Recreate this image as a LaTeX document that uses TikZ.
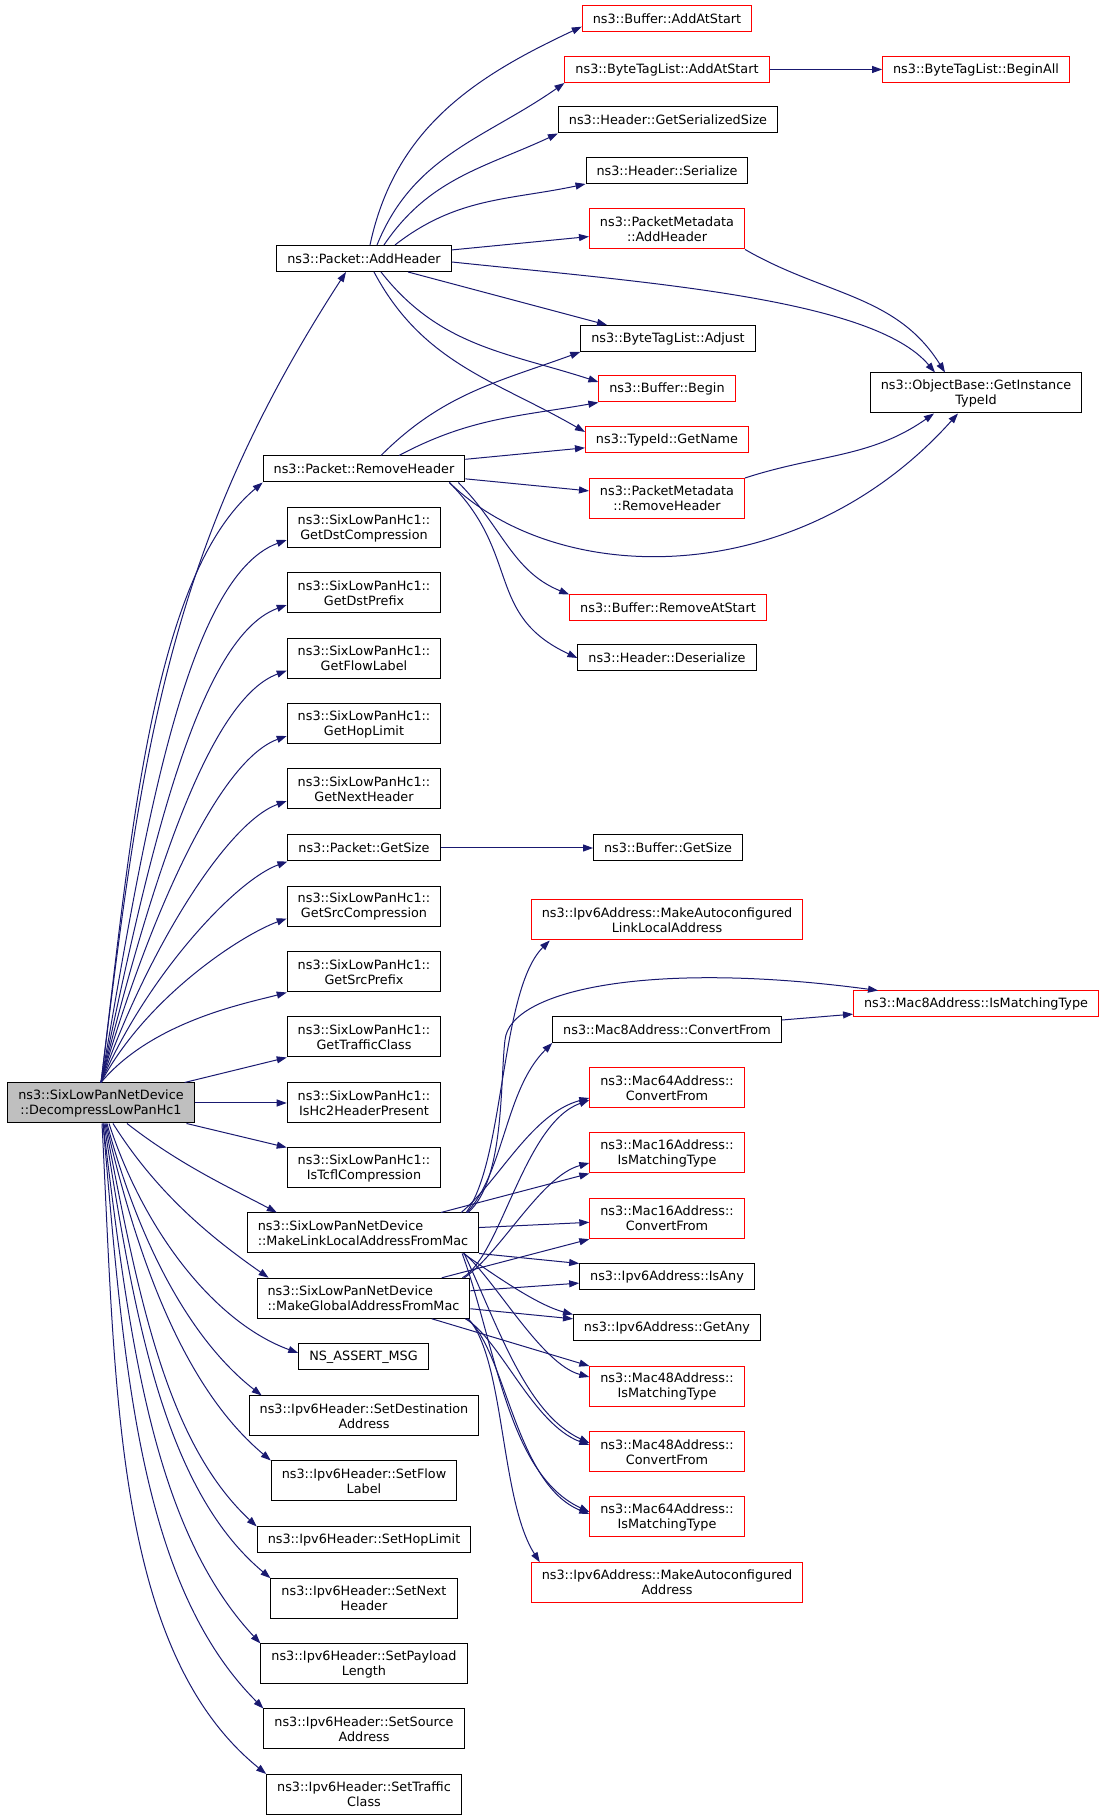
\documentclass[tikz,border=0pt]{standalone}
\usepackage{fontspec}
\setmainfont{DejaVu Sans}
\usepackage{tikz}
\usetikzlibrary{arrows.meta}

\definecolor{callblue}{HTML}{191970}
\definecolor{rootgray}{HTML}{BFBFBF}
\newcommand{\fnfont}{\fontsize{12.8pt}{15pt}\selectfont}

\begin{document}
\begin{tikzpicture}[
		x=1pt, y=1pt,
		fnbox/.style={rectangle, draw=#1, fill=white, line width=1pt, font=\fnfont, inner xsep=10.5pt, inner ysep=1pt, minimum height=26pt, align=center},
		fnbox/.default=black,
		tall/.style={minimum height=40pt},
		call/.style={draw=callblue, line width=1pt, -{Triangle[length=10pt,width=7pt]}},
		upfan/.style={call, in looseness=0.5},
		downfan/.style={call, in looseness=0.75}
		]
		
		\useasboundingbox (0,0) rectangle (1107,1820);
		
		% Caller
		\node[fnbox, fill=rootgray, tall] (D) at (101,717) {ns3::SixLowPanNetDevice\\::DecompressLowPanHc1};
		
		% Second column: called by the caller
		\node[fnbox] (AH) at (364,1561.5) {ns3::Packet::AddHeader};
		\node[fnbox] (RH) at (364,1351) {ns3::Packet::RemoveHeader};
		\node[fnbox, tall] (gDC) at (364,1292) {ns3::SixLowPanHc1::\\GetDstCompression};
		\node[fnbox, tall] (gDP) at (364,1227) {ns3::SixLowPanHc1::\\GetDstPrefix};
		\node[fnbox, tall] (gFL) at (364,1161.3) {ns3::SixLowPanHc1::\\GetFlowLabel};
		\node[fnbox, tall] (gHL) at (364,1096) {ns3::SixLowPanHc1::\\GetHopLimit};
		\node[fnbox, tall] (gNH) at (364,1031) {ns3::SixLowPanHc1::\\GetNextHeader};
		\node[fnbox] (pGS) at (364,972) {ns3::Packet::GetSize};
		\node[fnbox, tall] (gSC) at (364,913.5) {ns3::SixLowPanHc1::\\GetSrcCompression};
		\node[fnbox, tall] (gSP) at (364,848) {ns3::SixLowPanHc1::\\GetSrcPrefix};
		\node[fnbox, tall] (gTC) at (364,783) {ns3::SixLowPanHc1::\\GetTrafficClass};
		\node[fnbox, tall] (iH2) at (364,717) {ns3::SixLowPanHc1::\\IsHc2HeaderPresent};
		\node[fnbox, tall] (iTC) at (364,652) {ns3::SixLowPanHc1::\\IsTcflCompression};
		\node[fnbox, tall, align=left] (ML) at (363,587) {ns3::SixLowPanNetDevice\\::MakeLinkLocalAddressFromMac};
		\node[fnbox, tall, align=left] (MG) at (363.5,521.7) {ns3::SixLowPanNetDevice\\::MakeGlobalAddressFromMac};
		\node[fnbox] (nsA) at (363.5,463) {NS\_ASSERT\_MSG};
		\node[fnbox, tall] (sDA) at (364,404) {ns3::Ipv6Header::SetDestination\\Address};
		\node[fnbox, tall] (sFL) at (364,339) {ns3::Ipv6Header::SetFlow\\Label};
		\node[fnbox] (sHL) at (364,280) {ns3::Ipv6Header::SetHopLimit};
		\node[fnbox, tall] (sNH) at (364,221.3) {ns3::Ipv6Header::SetNext\\Header};
		\node[fnbox, tall] (sPL) at (364,156) {ns3::Ipv6Header::SetPayload\\Length};
		\node[fnbox, tall] (sSA) at (364,91) {ns3::Ipv6Header::SetSource\\Address};
		\node[fnbox, tall] (sTC) at (364,25.5) {ns3::Ipv6Header::SetTraffic\\Class};
		
		% Third column
		\node[fnbox=red] (bAAS) at (667,1801.3) {ns3::Buffer::AddAtStart};
		\node[fnbox=red] (btAAS) at (667,1750.5) {ns3::ByteTagList::AddAtStart};
		\node[fnbox] (hGSS) at (668,1700) {ns3::Header::GetSerializedSize};
		\node[fnbox] (hSer) at (667,1649.5) {ns3::Header::Serialize};
		\node[fnbox=red, tall] (pmAH) at (667,1591) {ns3::PacketMetadata\\::AddHeader};
		\node[fnbox] (btAdj) at (668,1481.5) {ns3::ByteTagList::Adjust};
		\node[fnbox=red] (bBeg) at (667,1431) {ns3::Buffer::Begin};
		\node[fnbox=red] (tGN) at (667,1380) {ns3::TypeId::GetName};
		\node[fnbox=red, tall] (pmRH) at (667,1321.5) {ns3::PacketMetadata\\::RemoveHeader};
		\node[fnbox=red] (bRAS) at (668,1212) {ns3::Buffer::RemoveAtStart};
		\node[fnbox] (hDes) at (667,1162) {ns3::Header::Deserialize};
		\node[fnbox] (bGS) at (668,972) {ns3::Buffer::GetSize};
		\node[fnbox=red, tall] (aLL) at (667,900) {ns3::Ipv6Address::MakeAutoconfigured\\LinkLocalAddress};
		\node[fnbox] (m8CF) at (667,790.5) {ns3::Mac8Address::ConvertFrom};
		\node[fnbox=red, tall] (m64CF) at (667,732) {ns3::Mac64Address::\\ConvertFrom};
		\node[fnbox=red, tall] (m16IMT) at (667,667) {ns3::Mac16Address::\\IsMatchingType};
		\node[fnbox=red, tall] (m16CF) at (667,601.3) {ns3::Mac16Address::\\ConvertFrom};
		\node[fnbox] (aIA) at (667,543) {ns3::Ipv6Address::IsAny};
		\node[fnbox] (aGA) at (667,492) {ns3::Ipv6Address::GetAny};
		\node[fnbox=red, tall] (m48IMT) at (667,433.5) {ns3::Mac48Address::\\IsMatchingType};
		\node[fnbox=red, tall] (m48CF) at (667,368) {ns3::Mac48Address::\\ConvertFrom};
		\node[fnbox=red, tall] (m64IMT) at (667,303) {ns3::Mac64Address::\\IsMatchingType};
		\node[fnbox=red, tall] (aA) at (667,237.3) {ns3::Ipv6Address::MakeAutoconfigured\\Address};
		
		% Fourth column
		\node[fnbox=red] (btBA) at (976,1750.5) {ns3::ByteTagList::BeginAll};
		\node[fnbox, tall] (obGIT) at (976,1427) {ns3::ObjectBase::GetInstance\\TypeId};
		\node[fnbox=red] (m8IMT) at (976,816) {ns3::Mac8Address::IsMatchingType};
		
		% Calls from the caller, upwards
		\draw[upfan] (D.north) to[out=83, in=-123, in looseness=1] ([xshift=-18pt]AH.south);
		\draw[upfan] (D.north) to[out=83, in=220, in looseness=0.6] (RH.south west);
		\draw[upfan] (D.north) to[out=80, in=200] ([yshift=-12pt]gDC.west);
		\draw[upfan] (D.north) to[out=78, in=200] ([yshift=-12pt]gDP.west);
		\draw[upfan] (D.north) to[out=76, in=200] ([yshift=-12pt]gFL.west);
		\draw[upfan] (D.north) to[out=74, in=200] ([yshift=-12pt]gHL.west);
		\draw[upfan] (D.north) to[out=71, in=200] ([yshift=-12pt]gNH.west);
		\draw[upfan] (D.north) to[out=67, in=200] (pGS.south west);
		\draw[upfan] (D.north) to[out=62, in=200] ([yshift=-12pt]gSC.west);
		\draw[upfan] (D.north) to[out=50, in=195] (gSP.south west);
		\draw[call] (D) -- (gTC.south west);
		\draw[call] (D) -- (iH2);
		\draw[call] (D) -- (iTC.north west);
		
		% Calls from the caller, downwards
		\draw[downfan] ([xshift=26pt]D.south) to[out=-38, in=152] ([xshift=30pt]ML.north west);
		\draw[downfan] ([xshift=12pt]D.south) to[out=-58, in=145] ([xshift=12pt]MG.north west);
		\draw[downfan] ([xshift=8pt]D.south) to[out=-72, in=160] ([yshift=4pt]nsA.west);
		\draw[downfan] ([xshift=6pt]D.south) to[out=-75, in=142] ([xshift=13pt]sDA.north west);
		\draw[downfan] ([xshift=5pt]D.south) to[out=-77, in=140] (sFL.north west);
		\draw[downfan] ([xshift=4pt]D.south) to[out=-79, in=137] (sHL.north west);
		\draw[downfan] ([xshift=3pt]D.south) to[out=-81, in=140] (sNH.north west);
		\draw[downfan] ([xshift=2pt]D.south) to[out=-83, in=133] (sPL.north west);
		\draw[downfan] ([xshift=2pt]D.south) to[out=-85, in=135] (sSA.north west);
		\draw[downfan] ([xshift=1pt]D.south) to[out=-87, in=141] (sTC.north west);
		
		% Packet::AddHeader
		\draw[call] ([xshift=6pt]AH.north) to[out=78, in=205] ([yshift=-8pt]bAAS.west);
		\draw[call] ([xshift=13pt]AH.north) to[out=68, in=215] (btAAS.south west);
		\draw[call] ([xshift=20pt]AH.north) to[out=56, in=205] (hGSS.south west);
		\draw[call] ([xshift=31pt]AH.north) to[out=38, in=192] (hSer.south west);
		\draw[call] (AH) -- (pmAH);
		\draw[call] ([yshift=-3.5pt]AH.east) to[out=-6, in=130, in looseness=0.5] ([xshift=-41pt]obGIT.north);
		\draw[call] ([xshift=44pt]AH.south) -- ([xshift=-61pt]btAdj.north);
		\draw[call] ([xshift=17pt]AH.south) to[out=-52, in=162] ([yshift=7pt]bBeg.west);
		\draw[call] ([xshift=10pt]AH.south) to[out=-62, in=150] ([yshift=8pt]tGN.west);
		\draw[call] (btAAS) -- (btBA);
		\draw[call] (pmAH.south east) to[out=-30, in=122] ([xshift=-31pt]obGIT.north);
		
		% Packet::RemoveHeader
		\draw[call] ([xshift=17pt]RH.north) to[out=45, in=200] (btAdj.south west);
		\draw[call] ([xshift=35pt]RH.north) to[out=28, in=190] (bBeg.south west);
		\draw[call] (RH) -- (tGN);
		\draw[call] (RH) -- (pmRH);
		\draw[call] ([xshift=-16pt]RH.south east) .. controls (560,1230) and (800,1230) .. ([xshift=-18pt]obGIT.south);
		\draw[call] ([xshift=-7pt]RH.south east) to[out=-45, in=158] (bRAS.north west);
		\draw[call] ([xshift=-16pt]RH.south east) to[out=-45, in=155, looseness=1.2] (hDes.west);
		\draw[call] (pmRH.north east) to[out=18, in=-145] ([xshift=-42pt]obGIT.south);
		
		\draw[call] (pGS) -- (bGS);
		\draw[call] (m8CF) -- (m8IMT);
		
		% MakeLinkLocalAddressFromMac
		\draw[call] ([xshift=-13pt]ML.north east) .. controls (505,660) and (500,830) .. ([xshift=19pt]aLL.south west);
		\draw[call] ([xshift=-11pt]ML.north east) .. controls (505,640) and (500,740) .. (505,780)
			.. controls (510,830) and (650,860) .. ([xshift=25pt]m8IMT.north west);
		\draw[call] ([xshift=-12pt]ML.north east) .. controls (505,650) and (505,730) .. (m8CF.south west);
		\draw[call] ([xshift=-18pt]ML.north east) .. controls +(40:50) and +(195:60) .. ([yshift=-10pt]m64CF.west);
		\draw[call] (ML) -- (m16IMT.south west);
		\draw[call] (ML) -- (m16CF);
		\draw[call] (ML.south east) -- (aIA.north west);
		\draw[call] ([xshift=-16pt]ML.south east) .. controls +(-34:30) and +(165:40) .. (aGA.north west);
		\draw[call] ([xshift=-15pt]ML.south east) .. controls +(-40:40) and +(165:50) .. ([yshift=9.5pt]m48IMT.west);
		\draw[call] ([xshift=-15pt]ML.south east) .. controls +(-65:80) and +(155:70) .. ([yshift=9pt]m48CF.west);
		\draw[call] ([xshift=-17pt]ML.south east) .. controls +(-70:100) and +(155:90) .. ([yshift=5pt]m64IMT.west);
		
		% MakeGlobalAddressFromMac
		\draw[call] ([xshift=-8pt]MG.north east) .. controls +(30:45) and +(200:70) .. ([yshift=-12pt]m64CF.west);
		\draw[call] ([xshift=-6pt]MG.north east) .. controls +(35:45) and +(195:50) .. ([yshift=-10pt]m16IMT.west);
		\draw[call] (MG) -- (m16CF.south west);
		\draw[call] (MG) -- (aIA);
		\draw[call] (MG) -- (aGA);
		\draw[call] (MG) -- (m48IMT.north west);
		\draw[call] ([xshift=-5pt]MG.south east) .. controls +(-30:40) and +(160:60) .. ([yshift=7pt]m48CF.west);
		\draw[call] ([xshift=-3pt]MG.south east) .. controls +(-40:50) and +(158:80) .. ([yshift=3pt]m64IMT.west);
		\draw[call] ([xshift=-2pt]MG.south east) .. controls (505,460) and (500,320) .. ([xshift=9pt]aA.north west);
		
	\end{tikzpicture}
\end{document}
